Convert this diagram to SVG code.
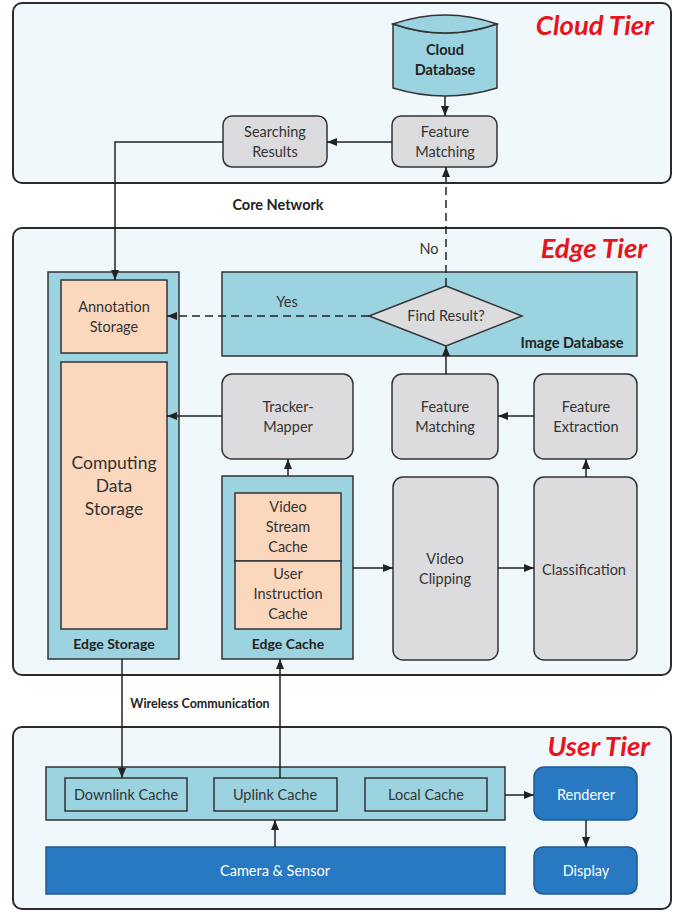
<svg xmlns="http://www.w3.org/2000/svg" width="684" height="912" viewBox="0 0 684 912">
<defs>
<style>
.tier{fill:#f1f8fc;stroke:#2b2b2b;stroke-width:2}
.lb{fill:#9cd3e0;stroke:#333;stroke-width:1.5}
.gr{fill:#dcdcde;stroke:#333;stroke-width:1.5}
.pe{fill:#fbd7bd;stroke:#333;stroke-width:1.5}
.bl{fill:#2878c2;stroke:#1d5a93;stroke-width:1.5}
.t{font-family:Lato,"Open Sans",sans-serif;font-size:14.5px;fill:#333;text-anchor:middle}
.tw{font-family:Lato,"Open Sans",sans-serif;font-size:14.5px;fill:#fff;text-anchor:middle}
.b{font-family:Lato,"Open Sans",sans-serif;font-size:13.5px;font-weight:bold;fill:#222;text-anchor:middle}
.tt{font-family:Lato,"Open Sans",sans-serif;font-size:27.5px;font-weight:bold;font-style:italic;fill:#e8141c;text-anchor:end}
.c{fill:none;stroke:#222;stroke-width:1.5}
.d{fill:none;stroke:#222;stroke-width:1.5;stroke-dasharray:8,5}
</style>
<marker id="ah" markerUnits="userSpaceOnUse" markerWidth="10" markerHeight="10" viewBox="0 0 10 10" refX="10" refY="5" orient="auto">
<path d="M0,1 L10,5 L0,9 Z" fill="#222"/>
</marker>
</defs>

<g id="cloud-tier">
<rect class="tier" x="13" y="3" width="658" height="180" rx="9"/>
<text class="tt" x="654" y="35">Cloud Tier</text>
</g>
<g id="edge-tier">
<rect class="tier" x="13" y="228" width="658" height="447" rx="9"/>
<text class="tt" x="647" y="258">Edge Tier</text>
</g>
<g id="user-tier">
<rect class="tier" x="13" y="727" width="658" height="182" rx="9"/>
<text class="tt" x="650" y="756">User Tier</text>
</g>

<g id="cloud-database">
<path class="lb" d="M393,24 Q445,42 497,24 L497,88 Q445,104 393,88 Z"/>
<path class="lb" d="M393,24 Q445,6 497,24 Q445,42 393,24 Z"/>
<text class="b" x="445" y="55" style="font-size:14.5px">Cloud</text>
<text class="b" x="445" y="75" style="font-size:14.5px">Database</text>
</g>
<g id="feature-matching-cloud">
<rect class="gr" x="392" y="116" width="105" height="51" rx="9"/>
<text class="t" x="445" y="137">Feature</text>
<text class="t" x="445" y="157">Matching</text>
</g>
<g id="searching-results">
<rect class="gr" x="223" y="116" width="104" height="51" rx="9"/>
<text class="t" x="275" y="137">Searching</text>
<text class="t" x="275" y="157">Results</text>
</g>

<text class="b" x="278" y="210" style="font-size:14.5px">Core Network</text>
<text class="t" x="429" y="254">No</text>

<g id="edge-storage">
<rect class="lb" x="48" y="272" width="131" height="387"/>
<text class="b" x="114" y="649" style="font-size:14px">Edge Storage</text>
</g>
<g id="annotation-storage">
<rect class="pe" x="61" y="280" width="106" height="73"/>
<text class="t" x="114" y="312">Annotation</text>
<text class="t" x="114" y="332">Storage</text>
</g>
<g id="computing-data-storage">
<rect class="pe" x="61" y="362" width="106" height="267"/>
<text class="t" x="114" y="469" style="font-size:17.5px">Computing</text>
<text class="t" x="114" y="492" style="font-size:17.5px">Data</text>
<text class="t" x="114" y="515" style="font-size:17.5px">Storage</text>
</g>

<g id="image-database">
<rect class="lb" x="222" y="272" width="415" height="84"/>
<text class="b" x="572" y="348" style="font-size:14.5px">Image Database</text>
</g>
<g id="find-result">
<polygon class="gr" points="446,286 522,316 446,346 369,316"/>
<text class="t" x="446" y="321">Find Result?</text>
</g>
<text class="t" x="287" y="307">Yes</text>

<g id="tracker-mapper">
<rect class="gr" x="222" y="374" width="131" height="85" rx="10"/>
<text class="t" x="288" y="412">Tracker-</text>
<text class="t" x="288" y="432">Mapper</text>
</g>
<g id="feature-matching-edge">
<rect class="gr" x="392" y="374" width="106" height="85" rx="10"/>
<text class="t" x="445" y="412">Feature</text>
<text class="t" x="445" y="432">Matching</text>
</g>
<g id="feature-extraction">
<rect class="gr" x="534" y="374" width="103" height="85" rx="10"/>
<text class="t" x="586" y="412">Feature</text>
<text class="t" x="586" y="432">Extraction</text>
</g>

<g id="edge-cache">
<rect class="lb" x="222" y="476" width="131" height="183"/>
<text class="b" x="288" y="649" style="font-size:14px">Edge Cache</text>
</g>
<g id="video-stream-cache">
<rect class="pe" x="235" y="493" width="106" height="68"/>
<text class="t" x="288" y="512">Video</text>
<text class="t" x="288" y="532">Stream</text>
<text class="t" x="288" y="552">Cache</text>
</g>
<g id="user-instruction-cache">
<rect class="pe" x="235" y="561" width="106" height="68"/>
<text class="t" x="288" y="579">User</text>
<text class="t" x="288" y="599">Instruction</text>
<text class="t" x="288" y="619">Cache</text>
</g>
<g id="video-clipping">
<rect class="gr" x="393" y="477" width="105" height="183" rx="10"/>
<text class="t" x="445" y="564">Video</text>
<text class="t" x="445" y="584">Clipping</text>
</g>
<g id="classification">
<rect class="gr" x="534" y="477" width="103" height="183" rx="10"/>
<text class="t" x="584" y="575">Classification</text>
</g>

<text class="b" x="200" y="708" style="font-size:12.5px">Wireless Communication</text>

<g id="cache-group">
<rect class="lb" x="46" y="767" width="459" height="53"/>
</g>
<g id="downlink-cache">
<rect class="lb" x="65" y="778" width="122" height="33"/>
<text class="t" x="126" y="800">Downlink Cache</text>
</g>
<g id="uplink-cache">
<rect class="lb" x="214" y="778" width="123" height="33"/>
<text class="t" x="275" y="800">Uplink Cache</text>
</g>
<g id="local-cache">
<rect class="lb" x="365" y="778" width="122" height="33"/>
<text class="t" x="426" y="800">Local Cache</text>
</g>
<g id="renderer">
<rect class="bl" x="534" y="767" width="103" height="53" rx="10"/>
<text class="tw" x="586" y="800">Renderer</text>
</g>
<g id="display">
<rect class="bl" x="534" y="847" width="103" height="47" rx="9"/>
<text class="tw" x="586" y="876">Display</text>
</g>
<g id="camera-sensor">
<rect class="bl" x="46" y="847" width="459" height="47"/>
<text class="tw" x="275" y="876">Camera &amp; Sensor</text>
</g>

<g id="connectors">
<line class="c" x1="445" y1="96" x2="445" y2="116" marker-end="url(#ah)"/>
<line class="c" x1="392" y1="142" x2="327" y2="142" marker-end="url(#ah)"/>
<polyline class="c" points="223,142 115,142 115,280" marker-end="url(#ah)"/>
<line class="d" x1="446" y1="286" x2="446" y2="167" marker-end="url(#ah)"/>
<line class="d" x1="369" y1="316" x2="167" y2="316" marker-end="url(#ah)"/>
<line class="c" x1="222" y1="416" x2="167" y2="416" marker-end="url(#ah)"/>
<line class="c" x1="446" y1="374" x2="446" y2="346" marker-end="url(#ah)"/>
<line class="c" x1="534" y1="416" x2="498" y2="416" marker-end="url(#ah)"/>
<line class="c" x1="288" y1="476" x2="288" y2="459" marker-end="url(#ah)"/>
<line class="c" x1="586" y1="477" x2="586" y2="459" marker-end="url(#ah)"/>
<line class="c" x1="353" y1="568" x2="393" y2="568" marker-end="url(#ah)"/>
<line class="c" x1="498" y1="568" x2="534" y2="568" marker-end="url(#ah)"/>
<line class="c" x1="122" y1="659" x2="122" y2="778" marker-end="url(#ah)"/>
<line class="c" x1="280" y1="778" x2="280" y2="659" marker-end="url(#ah)"/>
<line class="c" x1="505" y1="795" x2="534" y2="795" marker-end="url(#ah)"/>
<line class="c" x1="586" y1="820" x2="586" y2="847" marker-end="url(#ah)"/>
<line class="c" x1="275" y1="847" x2="275" y2="820" marker-end="url(#ah)"/>
</g>
</svg>
